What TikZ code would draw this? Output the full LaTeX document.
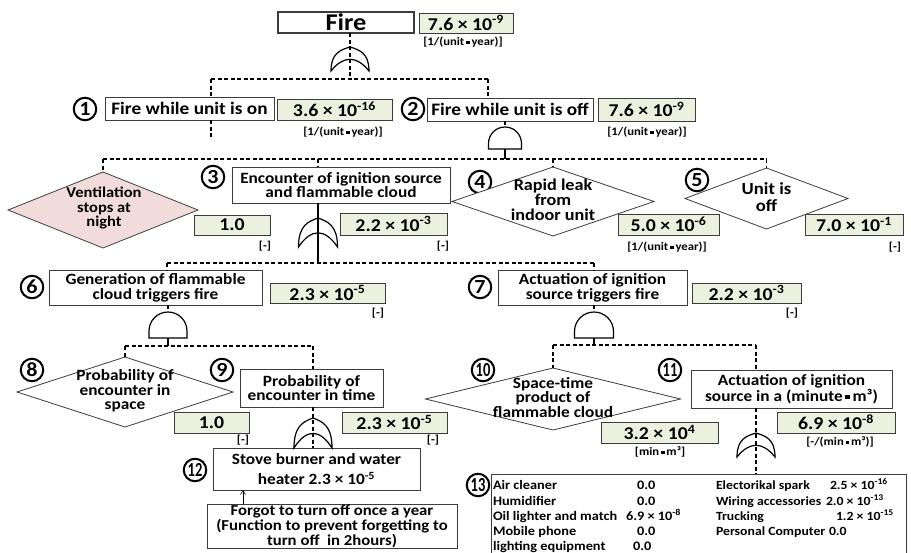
\documentclass[tikz,border=0pt]{standalone}
\usepackage{fontspec}
\usepackage{graphicx}
\setmainfont{Carlito}[FakeStretch=1.1]
\usetikzlibrary{shapes.geometric,arrows.meta}
\definecolor{valfill}{RGB}{235,241,222}
\definecolor{pinkfill}{RGB}{242,220,219}
\definecolor{bord}{RGB}{60,60,60}
\newcommand\sci[2]{#1 × 10\textsuperscript{#2}}
\newcommand\sqd{\,\raisebox{0.25ex}{\rule{0.3em}{0.3em}}\,}
\newcommand\fsz[2]{\fontsize{#1}{#2}\selectfont}
\newcommand\two[1]{\scalebox{0.66}[1]{#1}}
\newcommand\orgate[4]{%
  \draw[gatel] ({#1-#4},#3) .. controls ({#1-#4},{#3-0.75*(#3-#2)}) and ({#1-0.5*#4},{#2+0.12*(#3-#2)}) .. (#1,#2)
    .. controls ({#1+0.5*#4},{#2+0.12*(#3-#2)}) and ({#1+#4},{#3-0.75*(#3-#2)}) .. ({#1+#4},#3)
    .. controls ({#1+0.35*#4},{#3-0.65*(#3-#2)}) and ({#1-0.35*#4},{#3-0.65*(#3-#2)}) .. ({#1-#4},#3) -- cycle;}
\newcommand\andgate[4]{%
  \draw[gatel, fill=white] ({#1-#4},#3) -- ({#1-#4},{#2+#4}) arc[start angle=180, end angle=0, radius=#4pt] -- ({#1+#4},#3) -- cycle;}
\begin{document}
\begin{tikzpicture}[x=1pt,y=-1pt,
  every node/.style={inner sep=0pt, outer sep=0pt},
  box/.style={draw=bord, line width=0.8pt, fill=white, align=center, font=\bfseries\fsz{15.7}{14}},
  valbox/.style={draw=bord, line width=0.8pt, fill=valfill, align=center, font=\bfseries\fsz{18}{18}},
  unit/.style={font=\bfseries\fsz{11.5}{12}},
  num/.style={circle, draw=black, line width=2pt, minimum size=22.5pt, font=\bfseries\fsz{20}{20}},
  dia/.style={diamond, draw=bord, line width=0.8pt, fill=white},
  dtext/.style={align=center, font=\bfseries\fsz{15.7}{13}},
  tab/.style={anchor=base west, font=\bfseries\fsz{13}{14}},
  tabb/.style={anchor=base west, font=\bfseries\fsz{12.5}{14}},
  conn/.style={line width=1.2pt, dash pattern=on 4pt off 2.5pt},
  solidc/.style={line width=1.2pt},
  gatel/.style={draw=black, line width=1.2pt},
]
\useasboundingbox (0,0) rectangle (911,552);

% ---- top
\node[box, line width=1.6pt, minimum width=136pt, minimum height=21pt, font=\bfseries\fsz{24}{24}] (fire) at (346,22.5) {Fire};
\node[valbox, minimum width=94pt, minimum height=20pt] (fireV) at (466,23) {\sci{7.6}{-9}};
\node[unit] (fireU) at (463,42) {[1/(unit\sqd year)]};

% ---- level 1
\node[num] (c1) at (85,109) {1};
\node[box, minimum width=169pt, minimum height=23pt, font=\bfseries\fsz{17.5}{17.5}] (n1) at (189.5,108.5) {Fire while unit is on};
\node[valbox, minimum width=115pt, minimum height=21pt] (n1V) at (334.5,109.5) {\sci{3.6}{-16}};
\node[unit] (n1U) at (343,132) {[1/(unit\sqd year)]};
\node[num] (c2) at (413,109) {2};
\node[box, minimum width=166pt, minimum height=23pt, font=\bfseries\fsz{17.5}{17.5}] (n2) at (510,109.5) {Fire while unit is off};
\node[valbox, minimum width=97pt, minimum height=23pt] (n2V) at (646.5,109.5) {\sci{7.6}{-9}};
\node[unit] (n2U) at (647,132) {[1/(unit\sqd year)]};

% ---- level 2
\node[dia, fill=pinkfill, minimum width=190pt, minimum height=76pt] (vent) at (103,210) {};
\node[dtext, font=\bfseries\fsz{15}{14.5}] (ventT) at (104,208) {Ventilation\\stops at\\night};
\node[valbox, minimum width=76pt, minimum height=20pt] (ventV) at (232,225) {1.0};
\node[unit] (ventU) at (265,246) {[-]};
\node[num] (c3) at (213,177) {3};
\node[box, minimum width=218pt, minimum height=36pt] (n3) at (341,185) {Encounter of ignition source\\and flammable cloud};
\node[valbox, minimum width=107pt, minimum height=22pt] (n3V) at (393.5,224) {\sci{2.2}{-3}};
\node[unit] (n3U) at (443,246) {[-]};
\node[num] (c4) at (480,182) {4};
\node[dia, minimum width=202pt, minimum height=69pt] (n4) at (553,201.5) {};
\node[dtext, font=\bfseries\fsz{16.5}{15}] (n4T) at (553,200) {Rapid leak\\from\\indoor unit};
\node[valbox, minimum width=101pt, minimum height=21pt] (n4V) at (668.5,224.5) {\sci{5.0}{-6}};
\node[unit] (n4U) at (667,247) {[1/(unit\sqd year)]};
\node[num] (c5) at (697,180) {5};
\node[dia, minimum width=163pt, minimum height=61pt] (n5) at (766.5,198.5) {};
\node[dtext, font=\bfseries\fsz{17}{17}] (n5T) at (766.5,197) {Unit is\\off};
\node[valbox, minimum width=98pt, minimum height=21pt] (n5V) at (854,224.5) {\sci{7.0}{-1}};
\node[unit] (n5U) at (895,247) {[-]};

% ---- level 3
\node[num] (c6) at (32,287) {6};
\node[box, minimum width=213pt, minimum height=35pt, font=\bfseries\fsz{15.7}{15}] (n6) at (155.5,287.5) {Generation of flammable\\cloud triggers fire};
\node[valbox, minimum width=115pt, minimum height=20pt] (n6V) at (327.5,293) {\sci{2.3}{-5}};
\node[unit] (n6U) at (378,313) {[-]};
\node[num] (c7) at (480,287) {7};
\node[box, minimum width=189pt, minimum height=35pt, font=\bfseries\fsz{15.7}{15}] (n7) at (592.5,287.5) {Actuation of ignition\\source triggers fire};
\node[valbox, minimum width=109pt, minimum height=20pt] (n7V) at (746.5,293) {\sci{2.2}{-3}};
\node[unit] (n7U) at (792,313) {[-]};

% ---- level 4
\node[num] (c8) at (32,370) {8};
\node[dia, minimum width=216pt, minimum height=70pt] (n8) at (125,392) {};
\node[dtext, font=\bfseries\fsz{15.7}{14.5}] (n8T) at (125,391) {Probability of\\encounter in\\space};
\node[valbox, minimum width=75pt, minimum height=21pt] (n8V) at (211.5,422.5) {1.0};
\node[unit] (n8U) at (243,440) {[-]};
\node[num] (c9) at (222,370) {9};
\node[box, minimum width=143pt, minimum height=38pt, font=\bfseries\fsz{15.7}{13}] (n9) at (311.5,388) {Probability of\\encounter in time};
\node[valbox, minimum width=105pt, minimum height=21pt] (n9V) at (394.5,422.5) {\sci{2.3}{-5}};
\node[unit] (n9U) at (433,440) {[-]};
\node[num] (c10) at (483,370) {\two{10}};
\node[dia, minimum width=255pt, minimum height=62pt] (n10) at (553,399) {};
\node[dtext, font=\bfseries\fsz{15.7}{12.5}] (n10T) at (553,397.5) {Space-time\\product of\\flammable cloud};
\node[valbox, minimum width=117pt, minimum height=21pt] (n10V) at (659.5,432.5) {\sci{3.2}{4}};
\node[unit] (n10U) at (660,452) {[min\sqd m³]};
\node[num] (c11) at (670,370) {\two{11}};
\node[box, minimum width=201pt, minimum height=38pt, font=\bfseries\fsz{15.7}{13}] (n11) at (791.5,389) {Actuation of ignition\\source in a (minute\sqd m³)};
\node[valbox, minimum width=118pt, minimum height=21pt] (n11V) at (836,422.5) {\sci{6.9}{-8}};
\node[unit] (n11U) at (840,442) {[-/(min\sqd m³)]};

% ---- level 5
\node[num] (c12) at (195,470) {\two{12}};
\node[box, minimum width=207pt, minimum height=42pt, font=\bfseries\fsz{15.7}{20}] (n12) at (316.5,469) {Stove burner and water\\heater \sci{2.3}{-5}};
\node[box, minimum width=250pt, minimum height=44pt, font=\bfseries\fsz{15.2}{13}] (forgot) at (332,526) {Forgot to turn off once a year\\(Function to prevent forgetting to\\turn off\ \ in 2hours)};
\node[num] (c13) at (478,485) {\two{13}};

% ---- table
\coordinate (tl) at (491,474);
\coordinate (tr) at (906,474);
\draw[line width=0.8pt, draw=bord] (491,556) -- (tl) -- (tr) -- (906,556);
\node[tab] (r1a) at (493,489) {Air cleaner};
\node[tab] (r1b) at (637,489) {0.0};
\node[tabb] (r1c) at (716,489) {Electorikal spark};
\node[tabb] (r1d) at (830,489) {\sci{2.5}{-16}};
\node[tab] (r2a) at (493,505) {Humidifier};
\node[tab] (r2b) at (637,505) {0.0};
\node[tabb] (r2c) at (716,505) {Wiring accessories};
\node[tabb] (r2d) at (826,505) {\sci{2.0}{-13}};
\node[tab] (r3a) at (493,520) {Oil lighter and match};
\node[tab] (r3b) at (626,520) {\sci{6.9}{-8}};
\node[tabb] (r3c) at (716,520) {Trucking};
\node[tabb] (r3d) at (836,520) {\sci{1.2}{-15}};
\node[tab] (r4a) at (493,535) {Mobile phone};
\node[tab] (r4b) at (637,535) {0.0};
\node[tabb] (r4c) at (716,535) {Personal Computer};
\node[tabb] (r4d) at (829,535) {0.0};
\node[tab] (r5a) at (493,550) {lighting equipment};
\node[tab] (r5b) at (633,550) {0.0};

% ---- connectors
\coordinate (g0t) at (350,47);
\coordinate (j0) at (350,79);
\coordinate (j1) at (211,79);
\coordinate (j2) at (488,79);
\coordinate (e1) at (211,138);
\draw[conn] (fire.south -| j0) -- (j0);
\draw[conn] (j1) -- (j2);
\draw[conn] (j1) -- (j1 |- n1.north);
\draw[conn] (j1 |- n1.south) -- (e1);
\draw[conn] (j2) -- (j2 |- n2.north);

\coordinate (g2t) at (505,127);
\coordinate (g2b) at (505,149);
\coordinate (k0) at (505,159);
\draw[conn] (n2.south -| g2t) -- (g2t);
\draw[solidc] (g2b) -- (k0);
\draw[conn] (vent.north |- k0) -- (n5.north |- k0);
\draw[conn] (vent.north |- k0) -- (vent.north);
\coordinate (g3t) at (318,218);
\coordinate (l0) at (318,263);
\draw[conn] (g3t |- k0) -- (g3t |- n3.north);
\draw[conn] (n4.north |- k0) -- (n4.north);
\draw[conn] (n5.north |- k0) -- (n5.north);
\draw[solidc] (g3t |- n3.south) -- (l0);
\coordinate (l1) at (167,263);
\coordinate (l2) at (594,263);
\draw[conn] (l1) -- (l2);
\draw[conn] (l1) -- (l1 |- n6.north);
\draw[conn] (l2) -- (l2 |- n7.north);

\coordinate (g6t) at (168,312);
\coordinate (g6b) at (168,338);
\coordinate (m0) at (168,346);
\coordinate (m2) at (313,346);
\draw[conn] (n6.south -| g6t) -- (g6t);
\draw[solidc] (g6b) -- (m0);
\draw[conn] (n8.north |- m0) -- (m2);
\draw[conn] (n8.north |- m0) -- (n8.north);
\draw[conn] (m2) -- (m2 |- n9.north);
\draw[conn] (m2 |- n9.south) -- (m2 |- n12.north);

\coordinate (g7t) at (594,312);
\coordinate (g7b) at (594,338);
\coordinate (p0) at (594,345);
\coordinate (p2) at (756,345);
\draw[conn] (n7.south -| g7t) -- (g7t);
\draw[solidc] (g7b) -- (p0);
\draw[conn] (n10.north |- p0) -- (p2);
\draw[conn] (n10.north |- p0) -- (n10.north);
\draw[conn] (p2) -- (p2 |- n11.north);
\draw[conn] (p2 |- n11.south) -- (p2 |- tl);

\coordinate (a0) at (243,500);
\draw[-{Straight Barb[length=4pt,width=5pt]}, line width=0.6pt] (forgot.north -| a0) -- (n12.south -| a0);

% ---- gates
\orgate{350}{47}{71}{19}
\orgate{318}{218}{247}{19.5}
\orgate{313}{418}{448}{19}
\orgate{756}{433}{457}{19}
\andgate{505}{127}{149}{16.5}
\andgate{168}{312}{338}{19}
\andgate{594}{312}{338}{19.5}
\end{tikzpicture}
\end{document}
